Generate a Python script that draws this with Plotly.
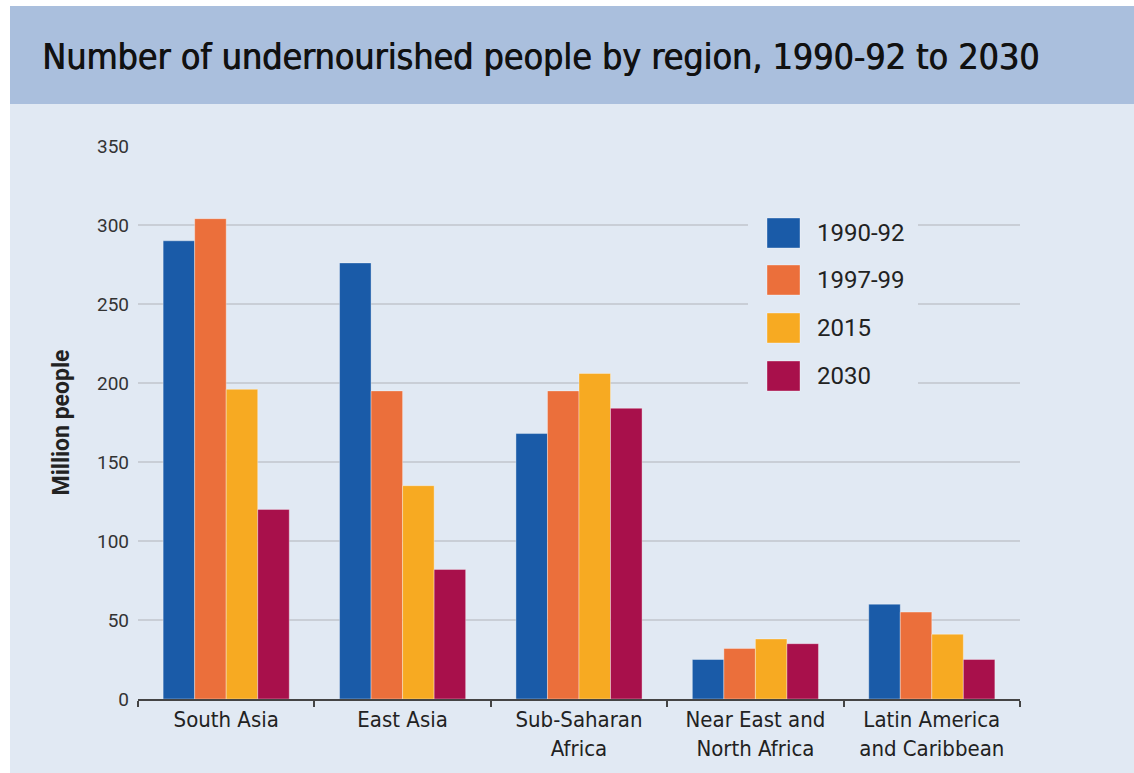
import plotly.graph_objects as go

categories = ["South Asia", "East Asia", "Sub-Saharan<br>Africa",
              "Near East and<br>North Africa", "Latin America<br>and Caribbean"]
series_names = ["1990-92", "1997-99", "2015", "2030"]
v_1990_92 = [290, 276, 168, 25, 60]
v_1997_99 = [304, 195, 195, 32, 55]
v_2015 = [196, 135, 206, 38, 41]
v_2030 = [120, 82, 184, 35, 25]
series_values = [v_1990_92, v_1997_99, v_2015, v_2030]
colors = ["#1a5ba8", "#eb6f3b", "#f7aa22", "#a8104b"]
y_ticks = [0, 50, 100, 150, 200, 250, 300, 350]

W, H = 1134, 773
L, R, T, B = 138, 114, 146, 74
PW, PH = W - L - R, H - T - B

def px_x(p):
    return (p - L) / PW

def px_y(p):
    return (H - B - p) / PH

COND = "DejaVu Sans Condensed, Liberation Sans Narrow, sans-serif"

fig = go.Figure()
for name, vals, c in zip(series_names, series_values, colors):
    fig.add_trace(go.Bar(
        x=categories, y=vals, name=name, marker_color=c,
        marker_line=dict(width=1, color="rgba(255,255,255,0.35)"),
        showlegend=False, hoverinfo="x+y+name"))

shapes = [
    dict(type="rect", xref="paper", yref="paper", layer="below",
         x0=px_x(10), x1=px_x(W), y0=px_y(H), y1=px_y(104),
         fillcolor="#e1e9f3", line_width=0),
    dict(type="rect", xref="paper", yref="paper", layer="below",
         x0=px_x(10), x1=px_x(W), y0=px_y(104), y1=px_y(6),
         fillcolor="#aabfdd", line_width=0),
    dict(type="rect", xref="paper", yref="paper", layer="above",
         x0=px_x(748), x1=px_x(918), y0=px_y(400), y1=px_y(200),
         fillcolor="#e1e9f3", line_width=0),
]
annotations = [
    dict(text="Number of undernourished people by region, 1990-92 to 2030",
         xref="paper", yref="paper", x=px_x(40), y=px_y(56),
         xanchor="left", yanchor="middle", showarrow=False,
         font=dict(family=COND, size=35.5, color="#111",
                   shadow="0.8px 0px 0px #111")),
]
leg_y = [233, 280, 328, 376]
for name, c, yc in zip(series_names, colors, leg_y):
    shapes.append(dict(type="rect", xref="paper", yref="paper", layer="above",
                       x0=px_x(767), x1=px_x(800), y0=px_y(yc + 15), y1=px_y(yc - 15),
                       fillcolor=c, line=dict(width=1, color="rgba(255,255,255,0.35)")))
    annotations.append(dict(text=name, xref="paper", yref="paper",
                            x=px_x(815), y=px_y(yc), xanchor="left", yanchor="middle",
                            showarrow=False,
                            font=dict(family="Roboto, sans-serif", size=24, color="#222")))

fig.update_layout(
    width=W, height=H,
    margin=dict(l=L, r=R, t=T, b=B, pad=0),
    paper_bgcolor="white",
    plot_bgcolor="#e1e9f3",
    barmode="group", bargap=0.285, bargroupgap=0,
    shapes=shapes, annotations=annotations,
    showlegend=False,
    xaxis=dict(
        showgrid=False, showline=True, linecolor="#444", linewidth=2,
        ticks="outside", tickson="boundaries", ticklen=6, tickcolor="#444", tickwidth=1.5,
        tickfont=dict(family=COND, size=22, color="#222"),
        fixedrange=True,
    ),
    yaxis=dict(
        range=[0, 350], tickvals=y_ticks, showgrid=True,
        gridcolor="#c9ced6", gridwidth=1.5, zeroline=False,
        showline=False, ticks="", ticklabelstandoff=8,
        tickfont=dict(family="Roboto, sans-serif", size=19, color="#333"),
        title=dict(text="<b>Million people</b>", standoff=20,
                   font=dict(family="Roboto, sans-serif", size=23, color="#222")),
        fixedrange=True,
    ),
)

fig.write_html("out.html", config={"displayModeBar": False},
               post_script="document.body.style.margin='0px';")
